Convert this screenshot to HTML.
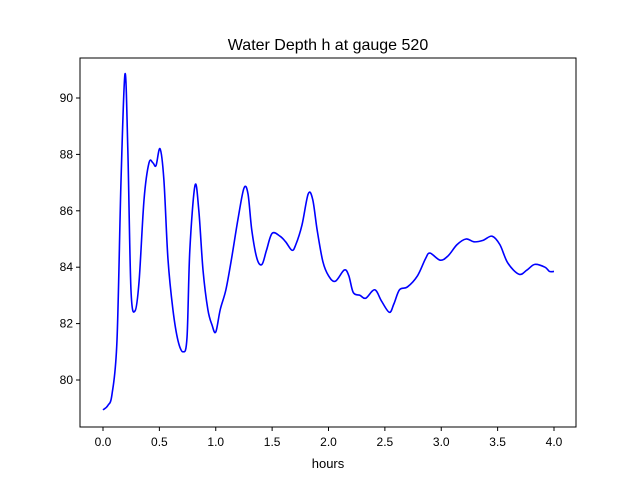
<!DOCTYPE html>
<html><head><meta charset="utf-8"><style>
body{margin:0;background:#fff;font-family:"Liberation Sans","DejaVu Sans",sans-serif}
</style></head><body>
<svg width="640" height="480" viewBox="0 0 640 480" xmlns="http://www.w3.org/2000/svg">
<rect width="640" height="480" fill="#fff"/>
<text x="328" y="50" text-anchor="middle" font-size="16">Water Depth h at gauge 520</text>
<g id="plot"></g>
<rect x="80" y="58" width="496" height="369" fill="none" stroke="#000" stroke-width="1"/>
<text x="328" y="468" text-anchor="middle" font-size="13">hours</text>
</svg>
<script>
const times=[0,0.044,0.08,0.124,0.16,0.195,0.22,0.248,0.284,0.32,0.364,0.408,0.443,0.47,0.506,0.54,0.576,0.62,0.665,0.71,0.745,0.77,0.816,0.85,0.887,0.93,0.967,1.0,1.04,1.09,1.14,1.197,1.25,1.286,1.32,1.366,1.41,1.45,1.5,1.57,1.62,1.676,1.71,1.765,1.82,1.86,1.9,1.95,2.0,2.06,2.14,2.18,2.22,2.28,2.33,2.41,2.47,2.54,2.58,2.63,2.7,2.79,2.86,2.9,2.99,3.06,3.14,3.22,3.29,3.37,3.45,3.52,3.59,3.69,3.76,3.83,3.92,3.96,4.0];
const depth=[78.94,79.1,79.5,81.4,87.1,90.85,88.2,83.2,82.45,83.5,86.4,87.7,87.7,87.6,88.2,87.1,84.3,82.5,81.4,81.0,81.5,84.6,86.9,86.0,83.9,82.5,81.95,81.7,82.5,83.2,84.3,85.7,86.8,86.6,85.3,84.3,84.1,84.6,85.2,85.1,84.9,84.6,84.8,85.5,86.6,86.4,85.3,84.2,83.7,83.5,83.9,83.7,83.1,83.0,82.9,83.2,82.8,82.4,82.7,83.2,83.3,83.7,84.3,84.5,84.25,84.4,84.8,85.0,84.9,84.95,85.1,84.8,84.15,83.75,83.9,84.1,84.0,83.85,83.85];
const xTicks=[0,0.5,1,1.5,2,2.5,3,3.5,4];
const xTickLabels=["0.0","0.5","1.0","1.5","2.0","2.5","3.0","3.5","4.0"];
const yTicks=[80,82,84,86,88,90];
const yTickLabels=["80","82","84","86","88","90"];
const NS="http://www.w3.org/2000/svg";
const sx=t=>103+t*112.75;
const sy=v=>380-(v-80)*28.2;
const g=document.getElementById('plot');
function mk(tag,attrs){const e=document.createElementNS(NS,tag);for(const k in attrs)e.setAttribute(k,attrs[k]);g.appendChild(e);return e;}
xTicks.forEach((t,i)=>{
 const l=mk('line',{x1:sx(t),x2:sx(t),y1:427,y2:431,stroke:'#000'});
 
 
 const tx=mk('text',{x:sx(t),y:446,'text-anchor':'middle','font-size':'12'});
 tx.textContent=xTickLabels[i];
 
 
});
yTicks.forEach((v,i)=>{
 const l=mk('line',{x1:76,x2:80,y1:sy(v),y2:sy(v),stroke:'#000'});
 
 
 const tx=mk('text',{x:73,y:sy(v)+4,'text-anchor':'end','font-size':'12'});
 tx.textContent=yTickLabels[i];
 
 
});
const P=times.map((t,i)=>[sx(t),sy(depth[i])]);
let d='M'+P[0][0]+','+P[0][1];
for(let i=0;i<P.length-1;i++){
 const p0=P[Math.max(0,i-1)],p1=P[i],p2=P[i+1],p3=P[Math.min(P.length-1,i+2)];
 const c1=[p1[0]+(p2[0]-p0[0])/6,p1[1]+(p2[1]-p0[1])/6];
 const c2=[p2[0]-(p3[0]-p1[0])/6,p2[1]-(p3[1]-p1[1])/6];
 d+=`C${c1[0]},${c1[1]} ${c2[0]},${c2[1]} ${p2[0]},${p2[1]}`;
}
const line=mk('path',{d:d,fill:'none',stroke:'#0000ff','stroke-width':'1.6'});


</script>
</body></html>
